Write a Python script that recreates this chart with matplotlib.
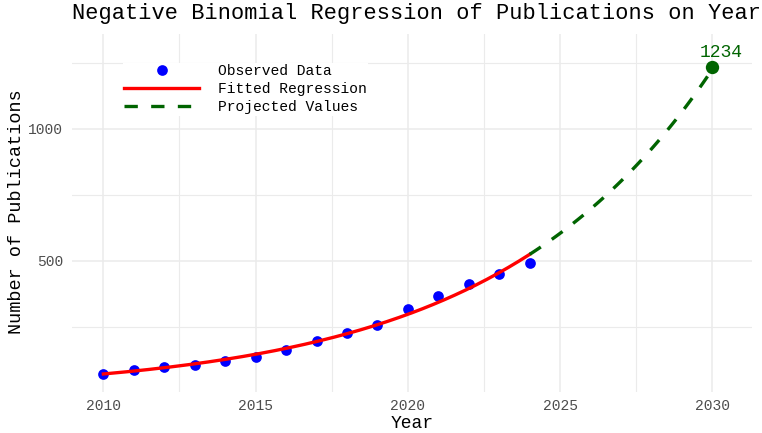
import numpy as np
import matplotlib
matplotlib.use("Agg")
import matplotlib.pyplot as plt
from matplotlib.ticker import MultipleLocator

# observed publication counts
years = np.arange(2010, 2025)
counts = np.array([71, 88, 98, 108, 120, 137, 163, 198, 227, 259,
                   317, 366, 414, 449, 491])
proj_year = 2030
proj_label = 1234

plt.rcParams['font.family'] = ['Liberation Mono', 'DejaVu Sans Mono']

# log-link count regression (IRLS), same idea as the original NB fit
X = np.column_stack([np.ones(len(years)), years - 2010])
beta = np.linalg.lstsq(X, np.log(counts), rcond=None)[0]
for _ in range(50):
    eta = X @ beta
    mu = np.exp(eta)
    z = eta + (counts - mu) / mu
    W = mu
    beta = np.linalg.solve(X.T @ (W[:, None] * X), X.T @ (W * z))


def predict(yr):
    return np.exp(beta[0] + beta[1] * (yr - 2010))


fit_x = np.linspace(years[0], years[-1], 200)
proj_x = np.linspace(years[-1], proj_year, 100)

fig = plt.figure(figsize=(7.62, 4.33), dpi=100)
ax = fig.add_axes([72 / 762, 41 / 433, 680 / 762, 358 / 433])

ax.plot(years, counts, 'o', color='#0000FF', markersize=7.7,
        markeredgewidth=0, label='Observed Data', zorder=3)
ax.plot(fit_x, predict(fit_x), color='#FF0000', lw=2.4,
        label='Fitted Regression', zorder=4)
ax.plot(proj_x, predict(proj_x), color='#006400', lw=2.4,
        dashes=(4, 4), label='Projected Values', zorder=4)
ax.plot([proj_year], [proj_label], 'o', color='#006400', markersize=9.6,
        markeredgewidth=0, zorder=5)
ax.annotate(str(proj_label), (proj_year, proj_label), xytext=(6.5, 7.2),
            textcoords='offset points', ha='center', va='baseline',
            color='#006400', fontsize=13)

ax.set_xlim(2008.97, 2031.3)
ax.set_ylim(4.5, 1358)
ax.xaxis.set_major_locator(MultipleLocator(5))
ax.xaxis.set_minor_locator(MultipleLocator(2.5))
ax.yaxis.set_major_locator(MultipleLocator(500))
ax.yaxis.set_minor_locator(MultipleLocator(250))
ax.grid(which='major', color='#EBEBEB', lw=1.1)
ax.grid(which='minor', color='#EBEBEB', lw=0.8)
ax.set_axisbelow(True)
for s in ax.spines.values():
    s.set_visible(False)
ax.tick_params(which='both', length=0)
ax.tick_params(axis='x', pad=5, labelsize=10.5, labelcolor='#4D4D4D')
ax.tick_params(axis='y', pad=6.5, labelsize=10.5, labelcolor='#4D4D4D')

ax.set_xlabel('Year', fontsize=13)
ax.xaxis.set_label_coords(0.5, -0.065)
ax.set_ylabel('Number of Publications', fontsize=13.3)
ax.yaxis.set_label_coords(-0.069, 0.505)

fig.text(72 / 762, 1 - 14 / 433,
         'Negative Binomial Regression of Publications on Year',
         fontsize=15.8, va='center', ha='left')

leg = ax.legend(loc='upper left', bbox_to_anchor=(123 / 762, 1 - 63 / 433),
                bbox_transform=fig.transFigure, fontsize=10.5,
                handlelength=5.1, handletextpad=1.3, labelspacing=0.27,
                borderpad=0.1, borderaxespad=0, frameon=True,
                fancybox=False)
leg.get_frame().set_facecolor('white')
leg.get_frame().set_edgecolor('none')
leg.get_frame().set_alpha(1)

fig.savefig('out.png', dpi=100)
